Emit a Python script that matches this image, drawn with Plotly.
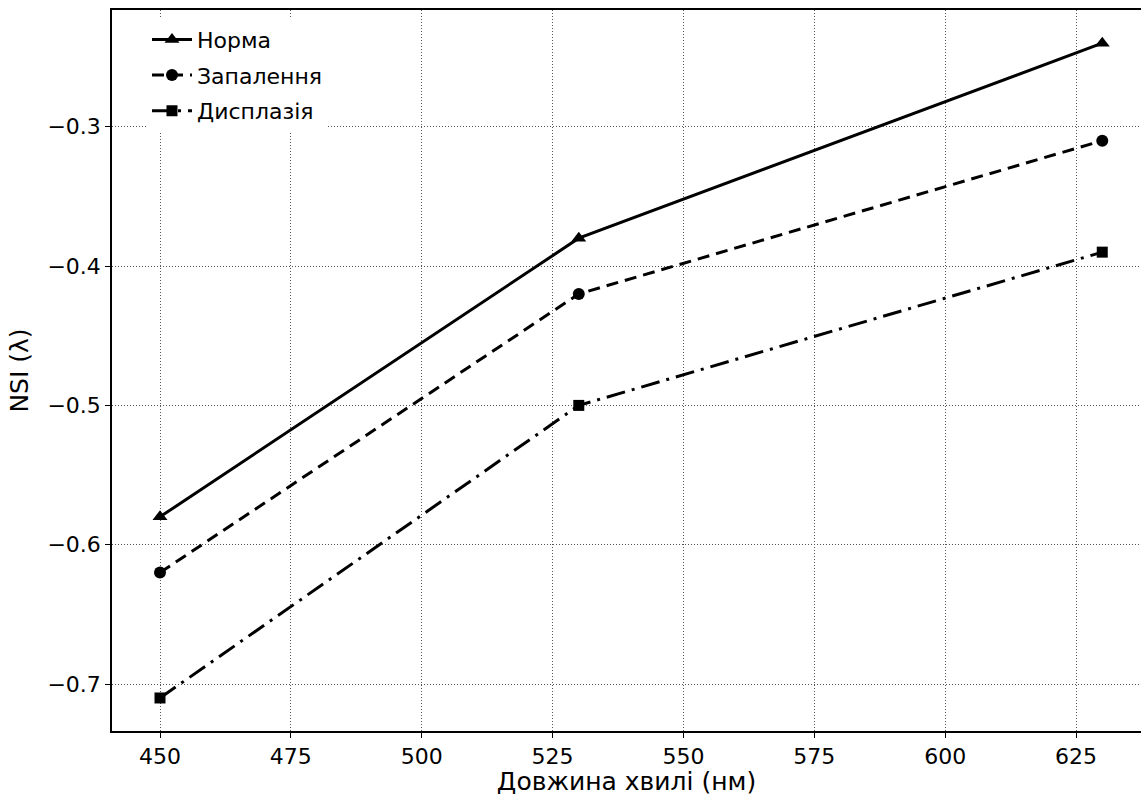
import plotly.graph_objects as go

wavelengths = [450, 530, 630]
norma = [-0.58, -0.38, -0.24]
zapalennia = [-0.62, -0.42, -0.31]
dysplaziia = [-0.71, -0.50, -0.39]
series_names = ["Норма", "Запалення", "Дисплазія"]
x_ticks = [450, 475, 500, 525, 550, 575, 600, 625]
y_ticks = [-0.7, -0.6, -0.5, -0.4, -0.3]

styles = [
    dict(dash="solid", symbol="triangle-up", size=13),
    dict(dash="12px,7px", symbol="circle", size=12),
    dict(dash="19px,7px,3px,7px", symbol="square", size=11),
]

fig = go.Figure()
for i, (name, vals, st) in enumerate(zip(series_names, [norma, zapalennia, dysplaziia], styles)):
    fig.add_trace(go.Scatter(
        x=wavelengths, y=vals, name=name, mode="lines+markers",
        legendgroup=f"g{i}",
        line=dict(color="black", width=3, dash=st["dash"]),
        marker=dict(color="black", symbol=st["symbol"], size=st["size"]),
    ))

font = "DejaVu Sans, sans-serif"
grid = dict(showgrid=True, gridcolor="#555", gridwidth=1, griddash="1px,2px")
fig.update_layout(
    width=1142, height=796,
    margin=dict(l=112, r=1, t=10, b=65),
    plot_bgcolor="white", paper_bgcolor="white",
    font=dict(family=font, size=22, color="black"),
    showlegend=True,
    legend=dict(x=0.034, y=0.988, xanchor="left", yanchor="top",
                bgcolor="white", borderwidth=0, traceorder="grouped",
                font=dict(family=font, size=22), itemwidth=40,
                tracegroupgap=4),
    xaxis=dict(
        range=[440.83, 637.4], tickvals=x_ticks,
        showline=True, linecolor="black", linewidth=1.5, mirror=True,
        ticks="outside", ticklen=5, tickcolor="black",
        zeroline=False, **grid,
        title=dict(text="Довжина хвилі (нм)", font=dict(family=font, size=25), standoff=0),
    ),
    yaxis=dict(
        range=[-0.7337, -0.2162], tickvals=y_ticks, tickformat=".1f",
        showline=True, linecolor="black", linewidth=1.5,
        ticks="outside", ticklen=5, tickcolor="black",
        zeroline=False, **grid,
        title=dict(text="NSI (λ)", font=dict(family=font, size=25), standoff=12),
    ),
)

fig.write_html("out.html")
